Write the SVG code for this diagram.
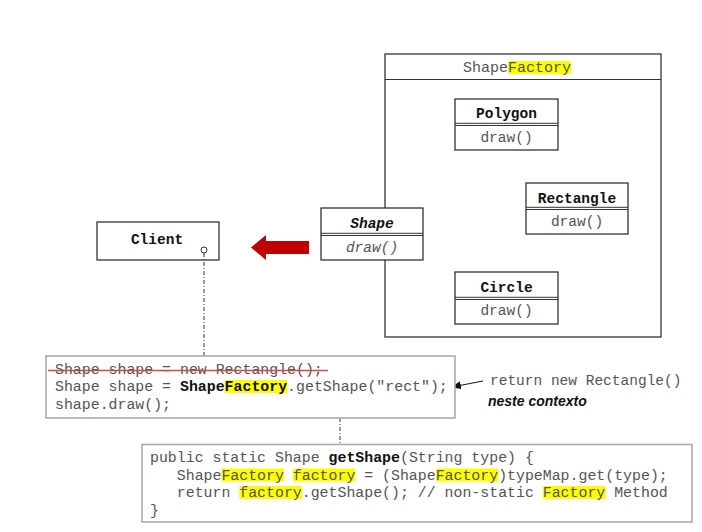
<svg xmlns="http://www.w3.org/2000/svg" width="702" height="532" viewBox="0 0 702 532">
<style>
.box{fill:#fff;stroke:#333;stroke-width:1.3}
.sep{stroke:#333;stroke-width:1}
.mono{font-family:"Liberation Mono","Courier New",monospace;font-size:14.88px;fill:#555}
.b{font-weight:bold;fill:#111}
.name{font-family:"Liberation Mono","Courier New",monospace;font-size:14.5px;font-weight:bold;fill:#111;text-anchor:middle}
.op{font-family:"Liberation Mono","Courier New",monospace;font-size:14.5px;fill:#555;text-anchor:middle}
.hl{fill:#ffff00}
.note{fill:#fff;stroke:#aaa;stroke-width:1.6}
.dd{stroke:#333;stroke-width:1;stroke-dasharray:4 2 1 2;fill:none}
</style>
<defs>
<marker id="ah" markerWidth="10" markerHeight="8" refX="9" refY="4" orient="auto" markerUnits="userSpaceOnUse">
<path d="M0,0 L10,4 L0,8 z" fill="#111"/>
</marker>
</defs>
<rect width="702" height="532" fill="#fff"/>

<g id="shapefactory">
<rect class="box" x="385" y="54" width="276" height="283"/>
<line class="sep" x1="385" y1="79.5" x2="661" y2="79.5"/>
<rect class="hl" x="508" y="61" width="63" height="13"/>
<text class="mono" x="463" y="72" style="font-size:15px">ShapeFactory</text>
</g>

<g id="polygon">
<rect class="box" x="455" y="99" width="103" height="51"/>
<line class="sep" x1="455" y1="123.3" x2="558" y2="123.3"/>
<line class="sep" x1="455" y1="125.5" x2="558" y2="125.5"/>
<text class="name" x="506.5" y="118">Polygon</text>
<text class="op" x="506.5" y="142">draw()</text>
</g>

<g id="rectangle">
<rect class="box" x="526" y="183" width="102" height="51"/>
<line class="sep" x1="526" y1="207.3" x2="628" y2="207.3"/>
<line class="sep" x1="526" y1="209.5" x2="628" y2="209.5"/>
<text class="name" x="577" y="203">Rectangle</text>
<text class="op" x="577" y="226">draw()</text>
</g>

<g id="circle">
<rect class="box" x="455" y="272" width="103" height="52"/>
<line class="sep" x1="455" y1="297.3" x2="558" y2="297.3"/>
<line class="sep" x1="455" y1="299.5" x2="558" y2="299.5"/>
<text class="name" x="506.5" y="292">Circle</text>
<text class="op" x="506.5" y="315">draw()</text>
</g>

<g id="shape">
<rect class="box" x="321" y="208" width="102" height="52"/>
<line class="sep" x1="321" y1="233.3" x2="423" y2="233.3"/>
<line class="sep" x1="321" y1="235.5" x2="423" y2="235.5"/>
<text class="name" x="372" y="228" font-style="italic">Shape</text>
<text class="op" x="372" y="252" font-style="italic">draw()</text>
</g>

<g id="client">
<rect class="box" x="97" y="222" width="122" height="38"/>
<text class="name" x="157" y="244">Client</text>
<circle cx="204" cy="250" r="3" fill="#fff" stroke="#333" stroke-width="1"/>
</g>

<g id="connectors">
<path d="M309,241 L266,241 L266,235 L251,247.5 L266,260 L266,254 L309,254 z" fill="#c00000"/>
<line class="dd" x1="204" y1="253" x2="204" y2="356"/>
<line class="dd" x1="340" y1="400" x2="340" y2="445"/>
<line x1="483" y1="381" x2="452" y2="387" stroke="#111" stroke-width="1" marker-end="url(#ah)"/>
</g>

<g id="client-code">
<rect class="note" x="46" y="356" width="409" height="62"/>
<rect class="hl" x="224.7" y="380" width="62.5" height="13"/>
<text class="mono" x="55" y="373.5" xml:space="preserve">Shape shape = new Rectangle();</text>
<line x1="48" y1="370.5" x2="328" y2="370.5" stroke="#d04848" stroke-width="1.5"/>
<text class="mono" x="55" y="391" xml:space="preserve">Shape shape = <tspan class="b">ShapeFactory</tspan>.getShape("rect");</text>
<text class="mono" x="55" y="408.5" xml:space="preserve">shape.draw();</text>
</g>

<g id="return-note">
<text class="mono" x="490" y="385" style="font-size:14.5px">return new Rectangle()</text>
<text x="488" y="405.5" font-family="Liberation Sans, Arial, sans-serif" font-size="14" font-weight="bold" font-style="italic" fill="#111">neste contexto</text>
</g>

<g id="factory-code">
<rect class="note" x="142" y="444.5" width="550" height="77.5"/>
<rect class="hl" x="221.4" y="468.5" width="62.5" height="13"/>
<rect class="hl" x="292.9" y="468.5" width="62.5" height="13"/>
<rect class="hl" x="435.8" y="468.5" width="62.5" height="13"/>
<rect class="hl" x="239.3" y="486" width="62.5" height="13"/>
<rect class="hl" x="542.9" y="486" width="62.5" height="13"/>
<text class="mono" x="150" y="462" xml:space="preserve">public static Shape <tspan class="b">getShape</tspan>(String type) {</text>
<text class="mono" x="150" y="479.5" xml:space="preserve">   ShapeFactory factory = (ShapeFactory)typeMap.get(type);</text>
<text class="mono" x="150" y="497" xml:space="preserve">   return factory.getShape(); // non-static Factory Method</text>
<text class="mono" x="150" y="514.5" xml:space="preserve">}</text>
</g>
</svg>
